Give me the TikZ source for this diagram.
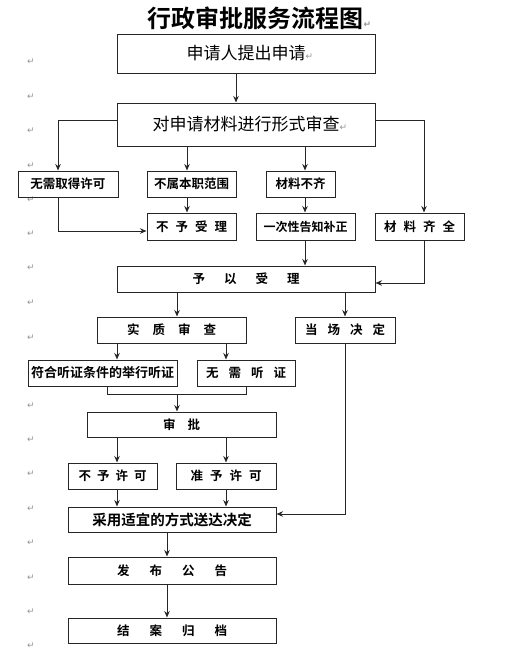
\documentclass[tikz,border=0pt]{standalone}
\usepackage{fontspec}
\setmainfont{Noto Sans CJK SC}[BoldFont={Noto Sans CJK SC Bold}]
\newfontfamily\djv{DejaVu Sans}
\usetikzlibrary{arrows.meta}
\newcommand\pmk{{\djv\color{gray!85}\fontsize{9}{9}\selectfont ↵}}
\newcommand\gp[1]{\hspace{#1pt}}
\begin{document}
\begin{tikzpicture}[x=1pt,y=-1pt,
  box/.style={draw=black!85, line width=1pt, inner sep=0pt, font=\bfseries\fontsize{12.5}{12.5}\selectfont},
  bigbox/.style={box, font=\fontsize{17}{17}\selectfont},
  arr/.style={draw=black!85, line width=0.9pt, -{Stealth[length=6.5pt,width=5.5pt]}},
  ln/.style={draw=black!85, line width=0.9pt},
  pm/.style={inner sep=0pt}]
\useasboundingbox (0,0) rectangle (511,664);
% columns and rows
\foreach \c in {58,107,117,167,177,187,226,236,246,305,345,424}{\coordinate (c\c) at (\c,0);}
\foreach \r in {120,231,283,394,514}{\coordinate (r\r) at (0,\r);}
% title
\node[font=\bfseries\fontsize{24}{24}\selectfont] (title) at (255.5,18) {行政审批服务流程图\rlap{\pmk}};
% paragraph marks
\foreach \y [count=\i] in {62,97,131,166,200,234,268,303,338,406,440,474,509,543,578,612,646}{\node[pm] (pm\i) at (31,\y) {\pmk};}
% boxes
\node[bigbox, minimum width=258pt, minimum height=39pt] (b1) at (246,53.5) {申请人提出申请\rlap{\pmk}};
\node[bigbox, minimum width=258pt, minimum height=43pt] (b2) at (246,124.5) {对申请材料进行形式审查\rlap{\pmk}};
\node[box, minimum width=100pt, minimum height=26pt] (n1) at (68,184) {无需取得许可};
\node[box, minimum width=89pt, minimum height=26pt] (n2) at (191.5,184) {不属本职范围};
\node[box, minimum width=69pt, minimum height=26pt] (n3) at (300.5,184) {材料不齐};
\node[box, minimum width=89pt, minimum height=27pt] (n5) at (191.5,226.5) {不\gp{7}予\gp{7}受\gp{7}理};
\node[box, minimum width=99pt, minimum height=27pt, font=\bfseries\fontsize{12}{12}\selectfont] (n6) at (305.5,226.5) {一次性告知补正};
\node[box, minimum width=89pt, minimum height=27pt] (n4) at (419.5,226.5) {材\gp{7}料\gp{7}齐\gp{7}全};
\node[box, minimum width=258pt, minimum height=26pt] (b3) at (246,279) {予\gp{19}以\gp{19}受\gp{19}理};
\node[box, minimum width=149pt, minimum height=26pt] (s1) at (171.5,330) {实\gp{13}质\gp{13}审\gp{13}查};
\node[box, minimum width=100pt, minimum height=26pt] (s2) at (345,330) {当\gp{10}场\gp{10}决\gp{10}定};
\node[box, minimum width=149pt, minimum height=26pt, font=\bfseries\fontsize{13}{13}\selectfont] (h1) at (102.5,373) {符合听证条件的举行听证};
\node[box, minimum width=98pt, minimum height=26pt] (h2) at (246,373) {无\gp{10}需\gp{10}听\gp{10}证};
\node[box, minimum width=189pt, minimum height=25pt] (sp) at (181.5,424.5) {审\gp{12}批};
\node[box, minimum width=89pt, minimum height=26pt] (d1) at (112.5,476) {不\gp{6}予\gp{6}许\gp{6}可};
\node[box, minimum width=100pt, minimum height=26pt] (d2) at (226,476) {准\gp{7}予\gp{7}许\gp{7}可};
\node[box, minimum width=208pt, minimum height=25pt, font=\bfseries\fontsize{14.5}{14.5}\selectfont] (dl) at (172,519.5) {采用适宜的方式送达决定};
\node[box, minimum width=208pt, minimum height=27pt] (pub) at (172,570.5) {发\gp{20}布\gp{20}公\gp{20}告};
\node[box, minimum width=208pt, minimum height=25pt] (arc) at (172,630.5) {结\gp{20}案\gp{20}归\gp{20}档};
% connectors
\draw[arr] (b1.south -| c236) -- (b2.north -| c236);
\draw[arr] (b2.west |- r120) -- (c58 |- r120) -- (n1.north -| c58);
\draw[arr] (b2.south -| c187) -- (n2.north -| c187);
\draw[arr] (b2.south -| c305) -- (n3.north -| c305);
\draw[arr] (b2.east |- r120) -- (c424 |- r120) -- (n4.north -| c424);
\draw[arr] (n2.south -| c187) -- (n5.north -| c187);
\draw[arr] (n1.south -| c58) -- (c58 |- r231) -- (n5.west |- r231);
\draw[arr] (n3.south -| c305) -- (n6.north -| c305);
\draw[arr] (n6.south -| c305) -- (b3.north -| c305);
\draw[arr] (n4.south -| c424) -- (c424 |- r283) -- (b3.east |- r283);
\draw[arr] (b3.south -| c177) -- (s1.north -| c177);
\draw[arr] (b3.south -| c345) -- (s2.north -| c345);
\draw[arr] (s1.south -| c117) -- (h1.north -| c117);
\draw[arr] (s1.south -| c226) -- (h2.north -| c226);
\draw[ln] (h1.south -| c107) -- (c107 |- r394) -- (c246 |- r394) -- (h2.south -| c246);
\draw[arr] (c177 |- r394) -- (sp.north -| c177);
\draw[arr] (sp.south -| c117) -- (d1.north -| c117);
\draw[arr] (sp.south -| c226) -- (d2.north -| c226);
\draw[arr] (d1.south -| c117) -- (dl.north -| c117);
\draw[arr] (d2.south -| c226) -- (dl.north -| c226);
\draw[arr] (s2.south -| c345) -- (c345 |- r514) -- (dl.east |- r514);
\draw[arr] (dl.south -| c167) -- (pub.north -| c167);
\draw[arr] (pub.south -| c167) -- (arc.north -| c167);
\end{tikzpicture}
\end{document}
